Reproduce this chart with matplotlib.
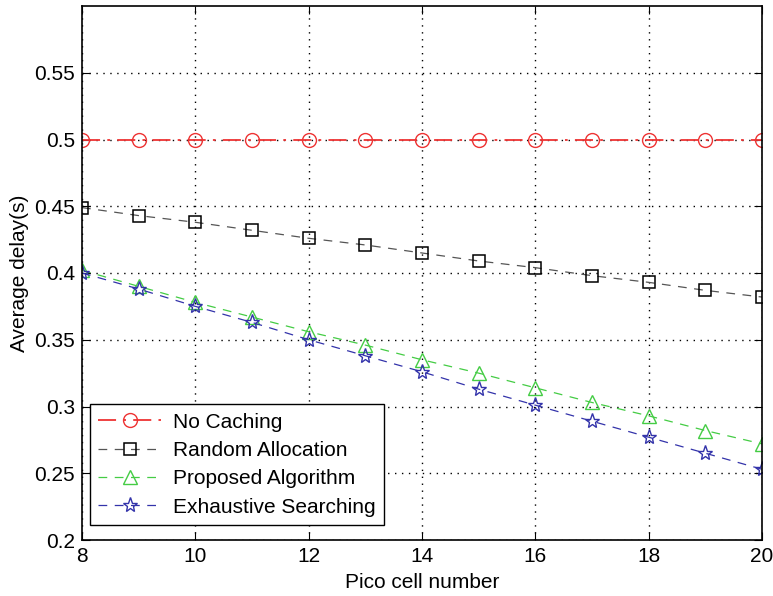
import numpy as np
import matplotlib.pyplot as plt

plt.rcParams['font.family'] = ['Liberation Sans', 'DejaVu Sans']

# -----------------------------
# data
# -----------------------------
pico = [8, 9, 10, 11, 12, 13, 14, 15, 16, 17, 18, 19, 20]
no_caching = [0.5] * 13
random_alloc = [0.449, 0.443, 0.438, 0.432, 0.426, 0.421, 0.415,
                0.409, 0.404, 0.398, 0.393, 0.387, 0.382]
proposed = [0.402, 0.390, 0.378, 0.367, 0.356, 0.346, 0.335,
            0.325, 0.314, 0.303, 0.293, 0.282, 0.272]
exhaustive = [0.400, 0.388, 0.375, 0.363, 0.350, 0.338, 0.326,
              0.313, 0.301, 0.289, 0.277, 0.265, 0.253]

yticks = [0.2, 0.25, 0.3, 0.35, 0.4, 0.45, 0.5, 0.55]
xticks = [8, 10, 12, 14, 16, 18, 20]

# -----------------------------
# plot
# -----------------------------
fig = plt.figure(figsize=(7.73, 5.96), dpi=100)
ax = fig.add_axes([82 / 773, 1 - 540 / 596, 680 / 773, 534 / 596])

ax.plot(pico, no_caching, color='#ee3333', lw=1.3, dashes=(10, 4, 1.5, 4),
        marker='o', ms=10, mfc='none', mec='#ee3333', mew=1.0, label='No Caching')
ax.plot(pico, random_alloc, color='#555555', lw=0.9, dashes=(7, 6),
        marker='s', ms=8, mfc='none', mec='black', mew=1.1, label='Random Allocation')
ax.plot(pico, proposed, color='#44cc44', lw=0.9, dashes=(7, 6),
        marker='^', ms=10, mfc='none', mec='#44cc44', mew=1.0, label='Proposed Algorithm')
ax.plot(pico, exhaustive, color='#3333aa', lw=0.9, dashes=(7, 6),
        marker='*', ms=11, mfc='none', mec='#3333aa', mew=1.0, label='Exhaustive Searching')

ax.set_xlim(8, 20)
ax.set_ylim(0.2, 0.6)
ax.set_xticks(xticks)
ax.set_yticks(yticks)
ax.set_yticklabels([f'{v:g}' for v in yticks])
ax.tick_params(direction='in', top=True, right=True, labelsize=15, length=6, pad=5)
ax.grid(True, color='black', linewidth=1.0, dashes=(1, 4))

for s in ax.spines.values():
    s.set_linewidth(1.2)

ax.set_xlabel('Pico cell number', fontsize=15, labelpad=5)
ax.set_ylabel('Average delay(s)', fontsize=15, labelpad=4)

leg = ax.legend(loc='lower left', bbox_to_anchor=(0.012, 0.028), borderaxespad=0,
                fontsize=15, fancybox=False, framealpha=1, edgecolor='black',
                handlelength=3.0, handletextpad=0.6, labelspacing=0.45, borderpad=0.4)
leg.get_frame().set_linewidth(1.0)

fig.savefig('out.png', dpi=100)
